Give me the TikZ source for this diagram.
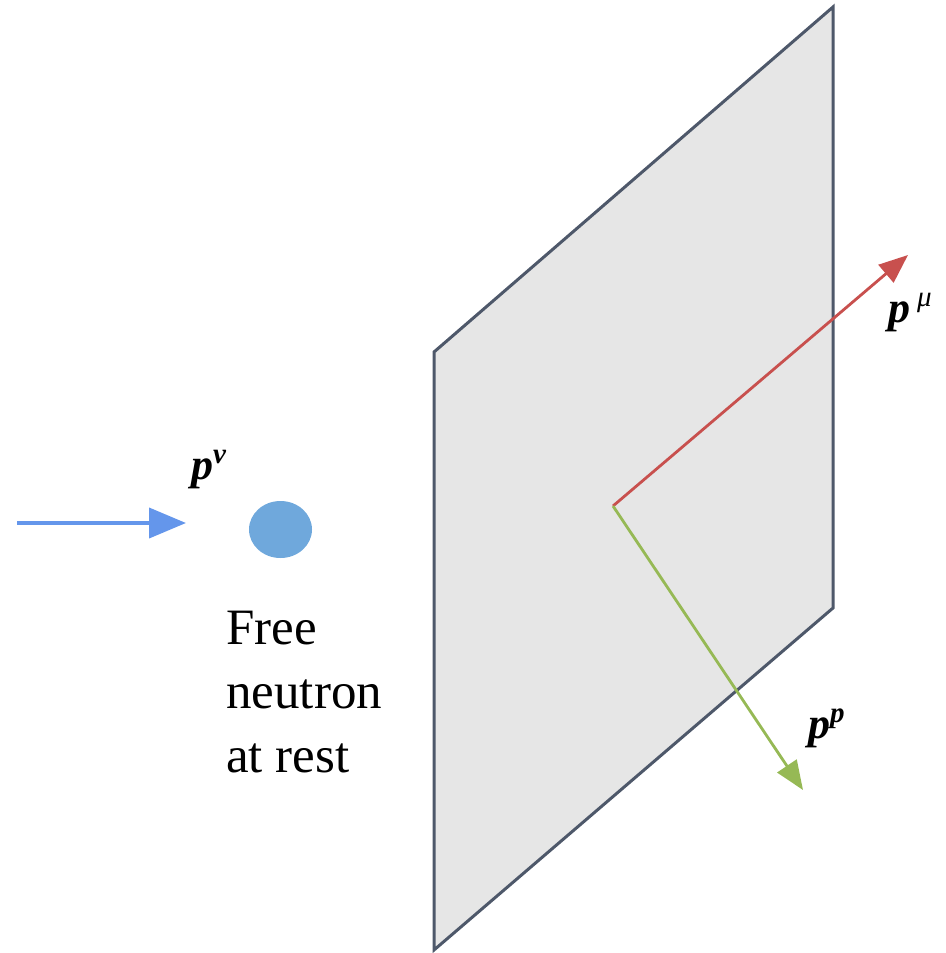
\documentclass[tikz,border=0pt]{standalone}
\usepackage{fontspec}
\setmainfont{Liberation Serif}
\usetikzlibrary{arrows.meta,shapes.geometric}
\definecolor{planefill}{RGB}{230,230,230}
\definecolor{planeedge}{RGB}{78,88,106}
\definecolor{mured}{RGB}{200,80,78}
\definecolor{pgreen}{RGB}{150,185,85}
\definecolor{nublue}{RGB}{100,150,235}
\definecolor{neutronblue}{RGB}{111,168,220}
\newcommand{\momsup}[1]{\raisebox{16pt}{\fontsize{29}{29}\selectfont #1}}
\tikzset{
  momlabel/.style={inner sep=0pt, font=\fontsize{44}{44}\selectfont\bfseries\itshape},
  vecarrow/.style={line width=2.8pt, -{Triangle[length=29pt,width=23pt]}},
}
\begin{document}
\begin{tikzpicture}[x=1pt,y=-1pt]
\useasboundingbox (0,0) rectangle (945,953);
% plane
\coordinate (TR) at (833,7);
\coordinate (TL) at (434,352);
\coordinate (BL) at (434,950);
\coordinate (BR) at (833,608);
\draw[fill=planefill, draw=planeedge, line width=3pt, line join=miter] (TR) -- (TL) -- (BL) -- (BR) -- cycle;
% vectors
\coordinate (V) at (613,506);
\coordinate (MuTip) at (908,255);
\coordinate (PTip) at (803,790);
\draw[vecarrow, mured] (V) -- (MuTip);
\draw[vecarrow, pgreen] (V) -- (PTip);
% neutrino arrow
\coordinate (NuStart) at (17,523);
\coordinate (NuEnd) at (186,523);
\draw[nublue, line width=4pt, -{Triangle[length=37pt,width=30pt]}] (NuStart) -- (NuEnd);
% neutron
\node[ellipse, fill=neutronblue, minimum width=63pt, minimum height=57pt, inner sep=0pt] (neutron) at (280.5,529.5) {};
% labels
\node[momlabel, anchor=base west] (pnu) at (191,479) {p\momsup{ν}};
\node[momlabel, anchor=base west] (pmu) at (888,322) {p\kern7pt\momsup{\mdseries μ}};
\node[momlabel, anchor=base west] (pp) at (808,738) {p\momsup{p}};
\node[anchor=base west, inner sep=0pt, align=left, font=\fontsize{51}{64}\selectfont] (txt) at (226,772) {Free\\neutron\\at rest};
\end{tikzpicture}
\end{document}
